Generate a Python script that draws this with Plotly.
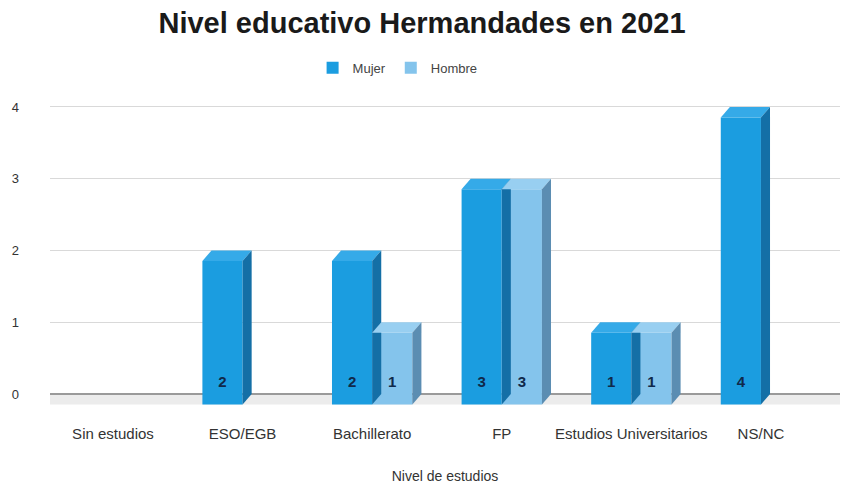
import plotly.graph_objects as go

# Data
categorias = ["Sin estudios", "ESO/EGB", "Bachillerato", "FP", "Estudios Universitarios", "NS/NC"]
mujer = [0, 2, 2, 3, 1, 4]
hombre = [0, 0, 1, 3, 1, 0]
y_ticks = [0, 1, 2, 3, 4]

# Styling for the 3D look
BAR_W = 0.31          # width of one bar in category units
DX = 0.07             # depth offset (x, category units)
DY = 0.145            # depth offset (y, value units)
LABEL_Y = 0.15        # height of the value labels inside the bars
series = [
    ("Mujer", mujer, -BAR_W / 2, "#1b9de0", "#35aae8", "#146fa6"),
    ("Hombre", hombre, BAR_W / 2, "#84c4ec", "#98cff1", "#5b8db2"),
]

X_RANGE = [-0.486, 5.61]
Y_RANGE = [-0.223, 4.167]

fig = go.Figure()

for name, vals, off, front, top, side in series:
    xs = [i + off for i in range(len(categorias))]
    yv = [v if v > 0 else None for v in vals]
    # front faces
    fig.add_trace(go.Bar(
        name=name, x=xs, y=yv, base=-DY, width=BAR_W,
        marker=dict(color=front, line=dict(width=0)),
        hoverinfo="skip",
    ))

for name, vals, off, front, top, side in series:
    xs = [i + off for i in range(len(categorias))]
    # top and side faces
    for xc, v in zip(xs, vals):
        if v <= 0:
            continue
        x0, x1 = xc - BAR_W / 2, xc + BAR_W / 2
        fig.add_trace(go.Scatter(
            x=[x0, x0 + DX, x1 + DX, x1, x0],
            y=[v - DY, v, v, v - DY, v - DY],
            fill="toself", fillcolor=top, line=dict(width=0),
            mode="lines", hoverinfo="skip", showlegend=False,
        ))
        fig.add_trace(go.Scatter(
            x=[x1, x1 + DX, x1 + DX, x1, x1],
            y=[v - DY, v, 0, -DY, v - DY],
            fill="toself", fillcolor=side, line=dict(width=0),
            mode="lines", hoverinfo="skip", showlegend=False,
        ))
    # value labels near the base of each bar
    lx = [x for x, v in zip(xs, vals) if v > 0]
    lt = [str(v) for v in vals if v > 0]
    fig.add_trace(go.Scatter(
        x=lx, y=[LABEL_Y] * len(lx), text=lt, mode="text",
        textfont=dict(family="Liberation Sans", size=15, color="#10294a", weight="bold"),
        hoverinfo="skip", showlegend=False,
    ))

# floor band between the back plane and the front plane
fig.add_shape(
    type="rect", xref="x", yref="y",
    x0=X_RANGE[0], x1=X_RANGE[1], y0=-DY, y1=0,
    fillcolor="#ececec", line=dict(width=0), layer="below",
)

fig.update_layout(
    width=844, height=487,
    margin=dict(l=50, r=4, t=95, b=77),
    paper_bgcolor="white", plot_bgcolor="white",
    barmode="overlay",
    title=dict(
        text="<b>Nivel educativo Hermandades en 2021</b>",
        x=0.5, xanchor="center", y=0.953, yanchor="middle",
        font=dict(family="Liberation Sans", size=29, color="#1a1a1a"),
    ),
    legend=dict(
        orientation="h", x=0.44, xanchor="center", y=1.086, yanchor="middle",
        font=dict(family="Liberation Sans", size=13, color="#444"),
        traceorder="normal", itemwidth=30,
    ),
    font=dict(family="Liberation Sans", color="#444"),
    showlegend=True,
)

fig.update_xaxes(
    range=X_RANGE, tickvals=list(range(len(categorias))), ticktext=categorias,
    showgrid=False, zeroline=False, showline=False, ticks="",
    tickfont=dict(size=15, color="#333"), ticklabelstandoff=13,
    title=dict(text="Nivel de estudios", font=dict(size=14, color="#333"), standoff=30),
)
fig.update_yaxes(
    range=Y_RANGE, tickvals=y_ticks, ticktext=[str(t) for t in y_ticks],
    showgrid=True, gridcolor="#d9d9d9", gridwidth=1,
    zeroline=True, zerolinecolor="#9a9a9a", zerolinewidth=2,
    showline=False, ticks="",
    tickfont=dict(size=13, color="#333"), ticklabelstandoff=30,
)

fig.write_html("out.html")
